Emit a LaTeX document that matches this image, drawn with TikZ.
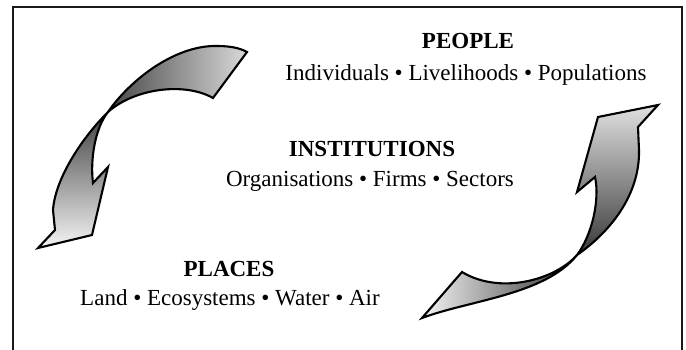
\documentclass[tikz,border=0pt]{standalone}
\usepackage{fontspec}
\setmainfont{Liberation Serif}
\begin{document}
\begin{tikzpicture}[x=1pt,y=-1pt,
  lbl/.style={anchor=base,inner sep=0pt,font=\fontsize{23}{26}\selectfont},
  ttl/.style={lbl,font=\fontsize{23}{26}\selectfont\bfseries},
  ribbon/.style={draw=black,line width=2.1pt},
  frame/.style={draw=black!90,line width=2.2pt}]
\clip (0,0) rectangle (686,349);
\fill[white] (0,0) rectangle (686,349);
\draw[frame] (13,7) rectangle (682,380);

\coordinate (c1) at (108,112);
\coordinate (c2) at (577,255);

% left arrow: tail piece
\shade[ribbon,left color=black!72,right color=black!15]
  (c1) .. controls (130,80) and (175,45) .. (217,46)
       .. controls (230,46) and (240,48) .. (247,52)
  -- (213,98) .. controls (185,82) and (135,88) .. (c1) -- cycle;
% left arrow: head piece
\shade[ribbon,top color=black!75,bottom color=black!4]
  (c1) .. controls (80,140) and (55,180) .. (53,210)
  -- (55,230) -- (38,248) -- (92,235) -- (108,167) -- (93,183)
  .. controls (90,160) and (95,128) .. (c1) -- cycle;

% right arrow: tail piece
\shade[ribbon,left color=black!4,right color=black!80]
  (c2) .. controls (555,280) and (500,295) .. (462,272)
  -- (422,318) .. controls (470,300) and (545,295) .. (c2) -- cycle;
% right arrow: head piece
\shade[ribbon,bottom color=black!78,top color=black!12]
  (c2) .. controls (610,232) and (640,195) .. (639,150)
  -- (638,127) -- (658,105) -- (598,117) -- (577,192) -- (595,177)
  .. controls (600,200) and (592,235) .. (c2) -- cycle;

\node[ttl] (people) at (468,48) {PEOPLE};
\node[lbl] (peoplesub) at (466,80) {Individuals • Livelihoods • Populations};
\node[ttl] (inst) at (372,156) {INSTITUTIONS};
\node[lbl] (instsub) at (370,186) {Organisations • Firms • Sectors};
\node[ttl] (places) at (229,276) {PLACES};
\node[lbl] (placessub) at (230,305) {Land • Ecosystems • Water • Air};
\end{tikzpicture}
\end{document}
